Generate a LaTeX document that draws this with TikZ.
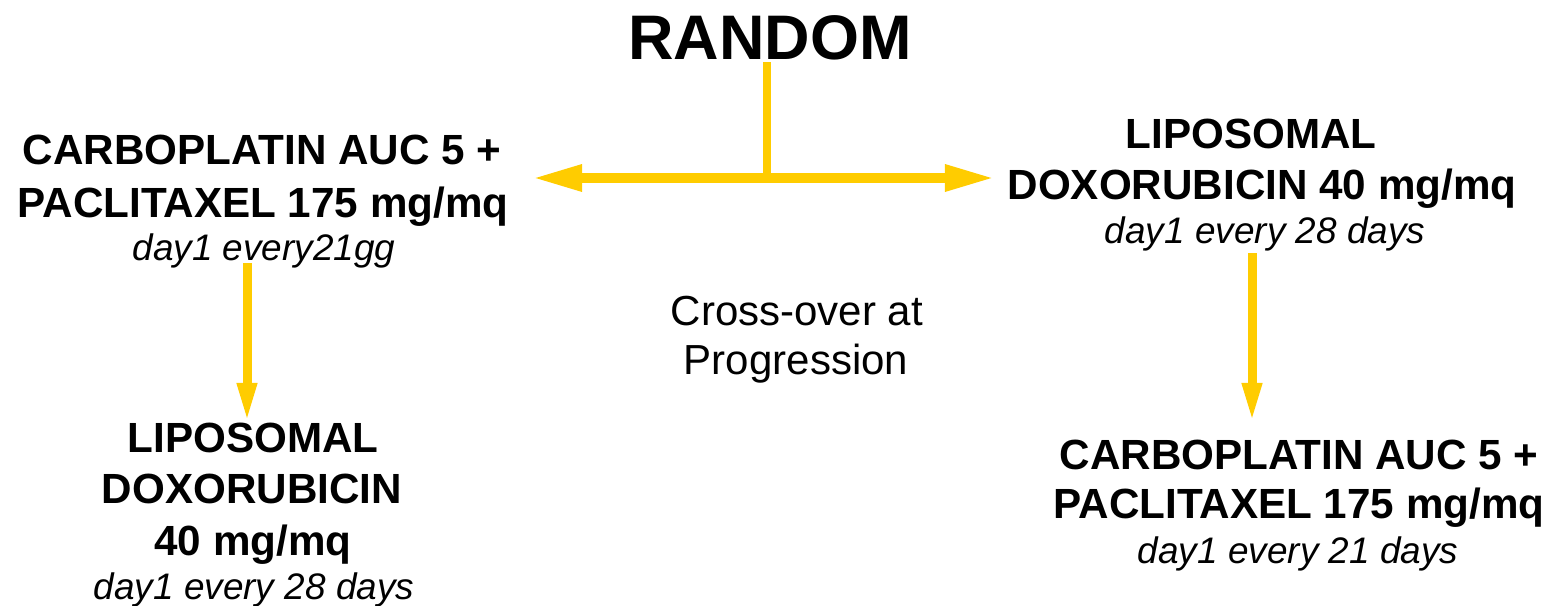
\documentclass[tikz,border=0pt]{standalone}
\usepackage{fontspec}
\setmainfont{Liberation Sans}
\usetikzlibrary{arrows.meta}
\definecolor{gold}{HTML}{FFCC00}
\tikzset{
  txt/.style={anchor=base, inner sep=0pt, outer sep=0pt},
  boldtxt/.style={txt, font=\fontsize{12}{14}\selectfont\bfseries},
  itxt/.style={txt, font=\fontsize{10.5}{13}\selectfont\itshape},
  plaintxt/.style={txt, font=\fontsize{11.95}{14}\selectfont},
  titletxt/.style={txt, font=\fontsize{17.9}{21}\selectfont\bfseries},
  hline/.style={draw=gold, line width=0.09cm},
  harrow/.style={hline, {Triangle[length=0.49cm,width=0.25cm]}-{Triangle[length=0.49cm,width=0.25cm]}},
  varrow/.style={hline, -{Triangle[length=0.40cm,width=0.18cm]}},
  stem/.style={draw=gold, line width=0.08cm}
}
\begin{document}
\begin{tikzpicture}[x=0.01cm,y=-0.01cm]
\useasboundingbox (0,0) rectangle (1554,606);
% title
\node[titletxt] (random) at (770,59) {RANDOM};
% top-left block
\node[boldtxt] (la) at (262,164) {CARBOPLATIN AUC 5 +};
\node[boldtxt] (lb) at (263,217) {PACLITAXEL 175 mg/mq};
\node[itxt] (lc) at (264,260) {day1 every21gg};
% top-right block
\node[boldtxt] (ra) at (1251,148) {LIPOSOMAL};
\node[boldtxt] (rb) at (1262,199) {DOXORUBICIN 40 mg/mq};
\node[itxt] (rc) at (1265,243) {day1 every 28 days};
% centre label
\node[plaintxt] (cx1) at (797,325) {Cross-over at};
\node[plaintxt] (cx2) at (796,374) {Progression};
% bottom-left block
\node[boldtxt] (bla) at (253,452) {LIPOSOMAL};
\node[boldtxt] (blb) at (252,503) {DOXORUBICIN};
\node[boldtxt] (blc) at (253,555) {40 mg/mq};
\node[itxt] (bld) at (254,599) {day1 every 28 days};
% bottom-right block
\node[boldtxt] (bra) at (1299,469) {CARBOPLATIN AUC 5 +};
\node[boldtxt] (brb) at (1299,518) {PACLITAXEL 175 mg/mq};
\node[itxt] (brc) at (1298,563) {day1 every 21 days};
% connector coordinates
\coordinate (stemtop) at (767,62);
\coordinate (hc) at (767,178);
\coordinate (hl) at (533,178);
\coordinate (hr) at (994,178);
\coordinate (lvt) at (247,263);
\coordinate (lvb) at (247,423);
\coordinate (rvt) at (1252,253);
\coordinate (rvb) at (1252,423);
% connectors
\draw[stem] (stemtop) -- (hc);
\draw[harrow] (hl) -- (hr);
\draw[varrow] (lvt) -- (lvb);
\draw[varrow] (rvt) -- (rvb);
\end{tikzpicture}
\end{document}
